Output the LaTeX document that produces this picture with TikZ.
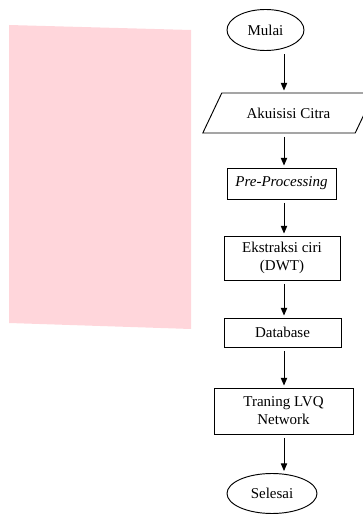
\documentclass[tikz,border=0pt]{standalone}
\usepackage{fontspec}
\setmainfont{Liberation Serif}
\usetikzlibrary{shapes.geometric,arrows.meta}

\definecolor{blush}{RGB}{255,214,219}

\begin{document}
\begin{tikzpicture}[
    font=\fontsize{12.8}{15.4}\selectfont,
    box/.style={draw=black, line width=0.8pt, rectangle, align=center, inner sep=1pt},
    term/.style={draw=black, line width=0.8pt, ellipse, inner sep=1pt},
    io/.style={draw=black, line width=0.8pt, trapezium, trapezium stretches=true,
      trapezium left angle=46.5, trapezium right angle=133.5, inner sep=1pt},
    flow/.style={-{Triangle[length=2.3mm,width=1.9mm]}, line width=0.8pt, black,
      shorten <=1mm, shorten >=0.6mm}
  ]
  \useasboundingbox (0,0) rectangle (10.89,15.81);
  \fill[blush] (0.27,15.06) -- (5.73,14.91) -- (5.73,5.94) -- (0.27,6.12) -- cycle;
  \coordinate (ax) at (8.52,0);
  \node[term, minimum width=2.31cm, minimum height=1.23cm] (mulai) at (7.965,14.91) {Mulai};
  \node[io, minimum width=5.19cm, minimum height=1.2cm] (akuisisi) at (8.655,12.42) {Akuisisi Citra};
  \node[box, minimum width=3.27cm, minimum height=0.93cm] (prepro) at (8.445,10.305) {\textit{Pre-Processing}};
  \node[box, minimum width=3.48cm, minimum height=1.32cm] (ekstraksi) at (8.46,8.07) {Ekstraksi ciri\\(DWT)};
  \node[box, minimum width=3.51cm, minimum height=0.87cm] (database) at (8.475,5.835) {Database};
  \node[box, minimum width=4.17cm, minimum height=1.38cm] (traning) at (8.505,3.48) {Traning LVQ\\Network};
  \node[term, minimum width=2.7cm, minimum height=1.2cm] (selesai) at (8.16,1.005) {Selesai};
  \draw[flow] (mulai.south -| ax) -- (akuisisi.north -| ax);
  \draw[flow] (akuisisi.south -| ax) -- (prepro.north -| ax);
  \draw[flow] (prepro.south -| ax) -- (ekstraksi.north -| ax);
  \draw[flow] (ekstraksi.south -| ax) -- (database.north -| ax);
  \draw[flow] (database.south -| ax) -- (traning.north -| ax);
  \draw[flow] (traning.south -| ax) -- (selesai.north -| ax);
\end{tikzpicture}
\end{document}
